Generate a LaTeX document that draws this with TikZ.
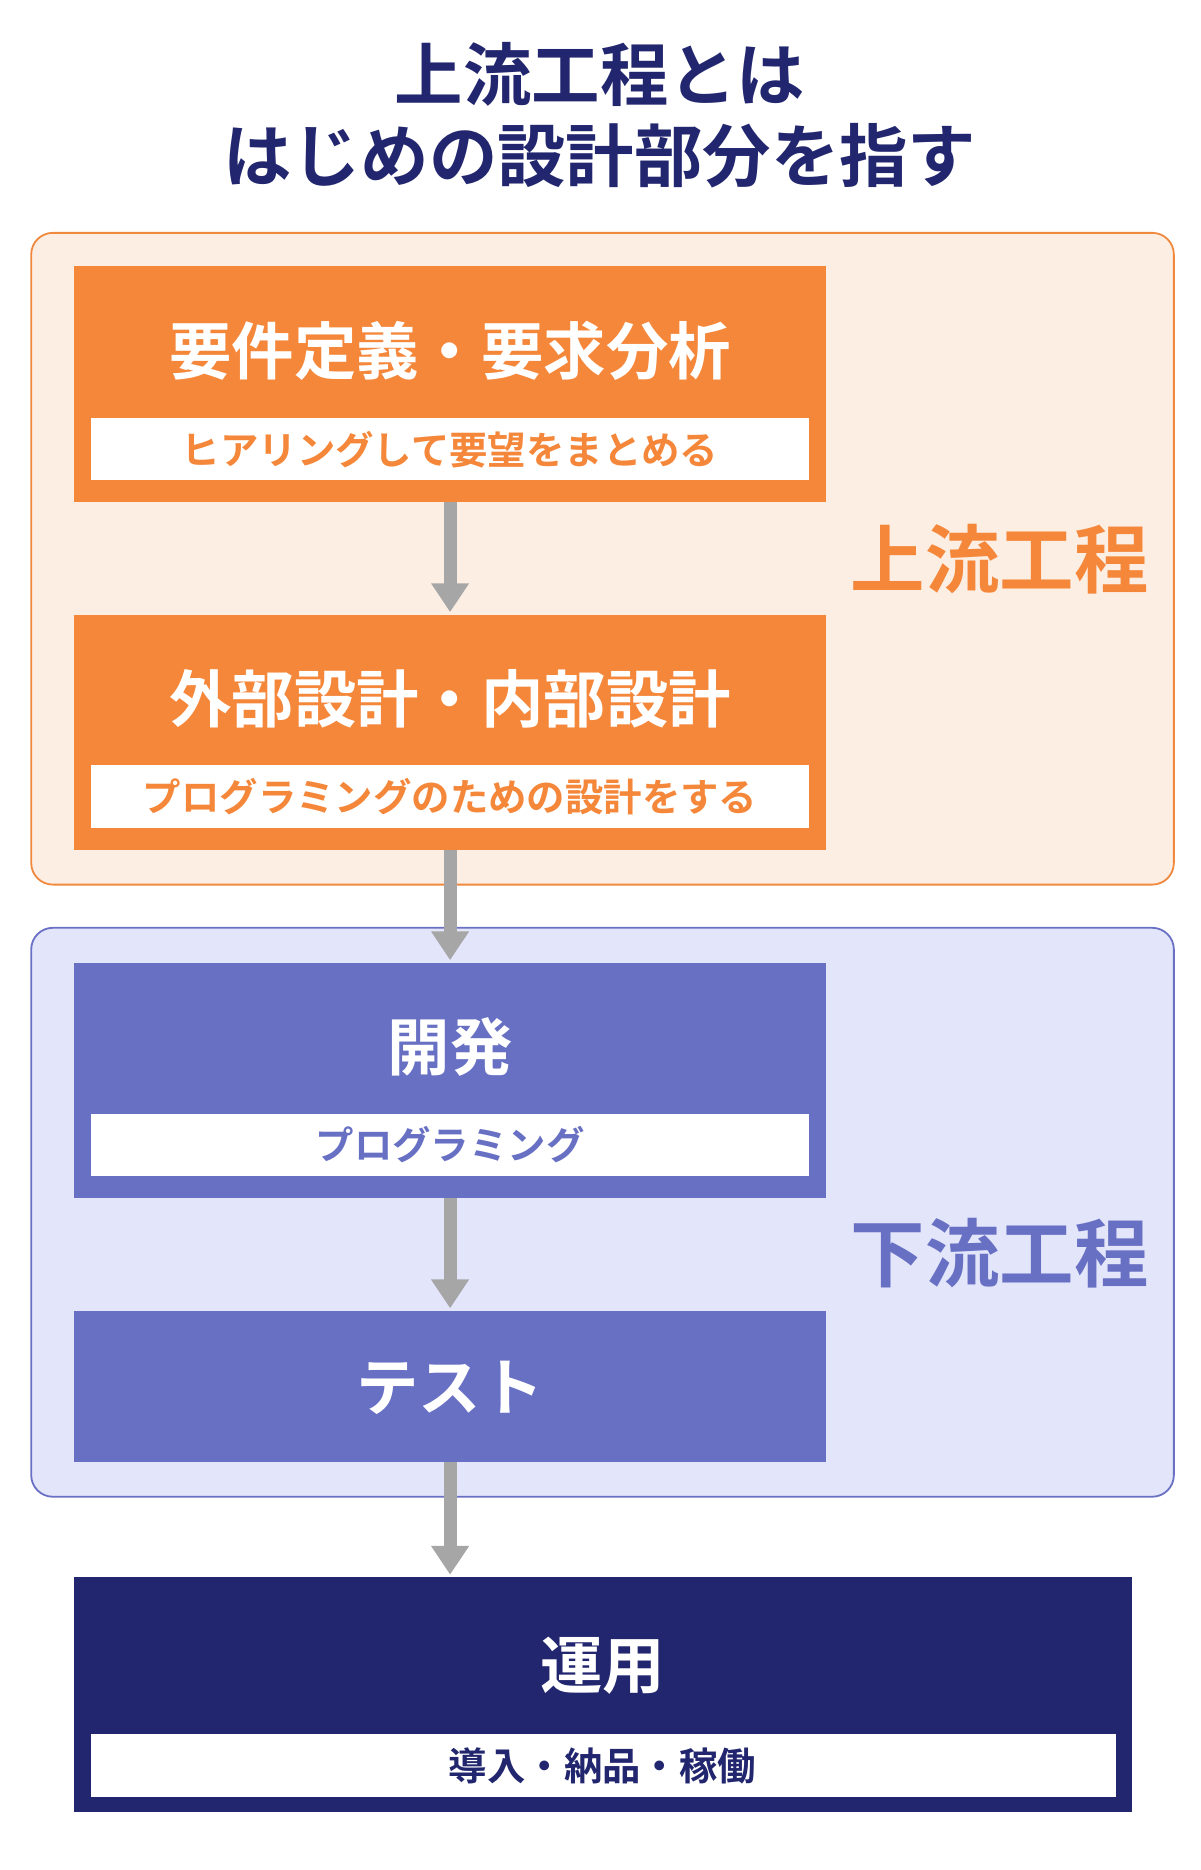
\documentclass[tikz,border=0pt]{standalone}
\usepackage{fontspec}
\setmainfont{Noto Sans CJK JP}[BoldFont={* Bold}]
\usetikzlibrary{arrows.meta}
\definecolor{navy}{HTML}{22266E}
\definecolor{org}{HTML}{F5873A}
\definecolor{orgfill}{HTML}{FDEEE3}
\definecolor{orgline}{HTML}{F0883E}
\definecolor{blu}{HTML}{6870C4}
\definecolor{blufill}{HTML}{E3E5FA}
\definecolor{bluline}{HTML}{6A70C4}
\definecolor{arr}{HTML}{A6A6A6}
\begin{document}
\begin{tikzpicture}[x=1pt,y=-1pt,
 region/.style={rounded corners=18pt,line width=1.5pt},
 bar/.style={fill=white},
 ttl/.style={font=\bfseries\fontsize{52}{56}\selectfont,text=white},
 sub/.style={font=\bfseries\fontsize{32}{36}\selectfont},
 flow/.style={draw=arr,line width=11pt,-{Triangle[width=30pt,length=24pt]}},
 lbl/.style={font=\bfseries\fontsize{62}{66}\selectfont}]
\useasboundingbox (0,0) rectangle (1000,1558);
\node[font=\bfseries\fontsize{57}{60}\selectfont,text=navy] (t1) at (500,62) {上流工程とは};
\node[font=\bfseries\fontsize{57}{60}\selectfont,text=navy] (t2) at (500,130) {はじめの設計部分を指す};
\draw[region,fill=orgfill,draw=orgline] (26,194) rectangle (978,737);
\draw[region,fill=blufill,draw=bluline] (26,773) rectangle (978,1247);
\fill[org] (62,222) rectangle (688,418);
\fill[bar] (76,348) rectangle (674,400);
\node[ttl] (b1) at (375,292) {要件定義・要求分析};
\node[sub,text=org] (s1) at (375,375) {ヒアリングして要望をまとめる};
\fill[org] (62,512) rectangle (688,708);
\fill[bar] (76,637) rectangle (674,690);
\node[ttl] (b2) at (375,582) {外部設計・内部設計};
\node[sub,text=org] (s2) at (375,664) {プログラミングのための設計をする};
\fill[blu] (62,802) rectangle (688,998);
\fill[bar] (76,928) rectangle (674,980);
\node[ttl] (b3) at (375,872) {開発};
\node[sub,text=blu] (s3) at (375,954) {プログラミング};
\fill[blu] (62,1092) rectangle (688,1218);
\node[ttl] (b4) at (375,1156) {テスト};
\fill[navy] (62,1314) rectangle (943,1510);
\fill[bar] (76,1445) rectangle (930,1497);
\node[ttl] (b5) at (502,1388) {運用};
\node[sub,text=navy] (s5) at (502,1471) {導入・納品・稼働};
\node[lbl,text=org] (l1) at (833,466) {上流工程};
\node[lbl,text=blu] (l2) at (833,1044) {下流工程};
\coordinate (a1) at (375,418); \coordinate (a1e) at (375,510);
\coordinate (a2) at (375,708); \coordinate (a2e) at (375,800);
\coordinate (a3) at (375,998); \coordinate (a3e) at (375,1090);
\coordinate (a4) at (375,1218); \coordinate (a4e) at (375,1312);
\draw[flow] (a1) -- (a1e);
\draw[flow] (a2) -- (a2e);
\draw[flow] (a3) -- (a3e);
\draw[flow] (a4) -- (a4e);
\end{tikzpicture}
\end{document}
